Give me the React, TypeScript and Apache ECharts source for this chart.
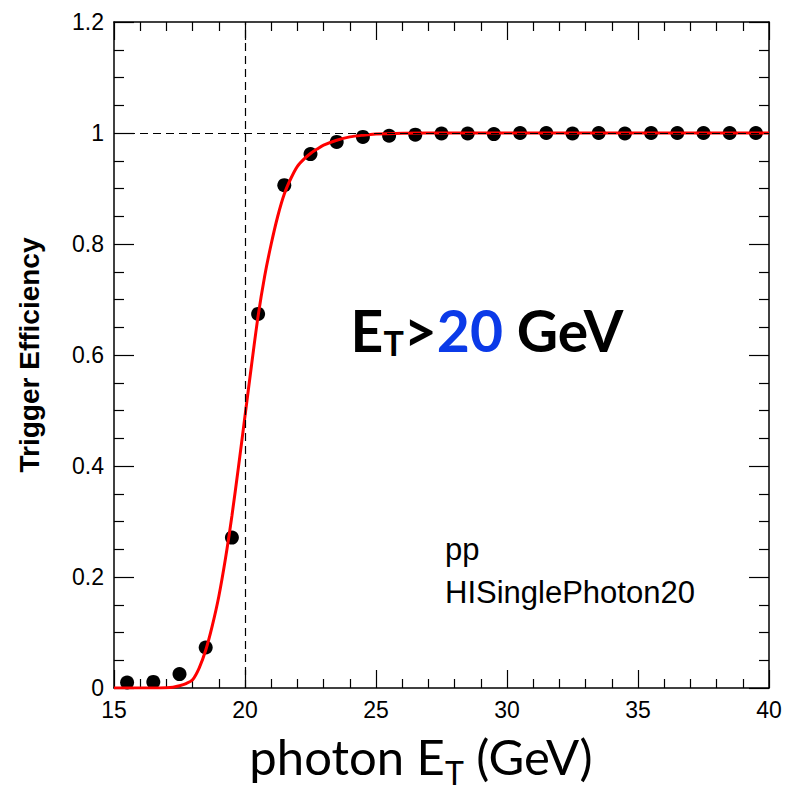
import React, { useEffect, useRef } from "react";
import * as echarts from "echarts";

// measured efficiency points (photon ET in GeV, efficiency)
const pointX = [15.5, 16.5, 17.5, 18.5, 19.5, 20.5, 21.5, 22.5, 23.5, 24.5, 25.5, 26.5, 27.5, 28.5, 29.5, 30.5, 31.5, 32.5, 33.5, 34.5, 35.5, 36.5, 37.5, 38.5, 39.5];
const pointY = [0.010, 0.011, 0.025, 0.073, 0.271, 0.674, 0.906, 0.962, 0.984, 0.993, 0.995, 0.997, 0.999, 0.999, 0.998, 1.0, 1.0, 0.999, 1.0, 0.999, 1.0, 1.0, 1.0, 1.0, 1.0];

// fitted curve
const fitX = [15, 16, 16.5, 17, 17.25, 17.5, 17.75, 18, 18.25, 18.5, 18.75, 19, 19.25, 19.5, 19.75, 20, 20.25, 20.5, 20.75, 21, 21.25, 21.5, 21.75, 22, 22.25, 22.5, 22.75, 23, 23.5, 24, 24.5, 25, 26, 27, 28, 30, 35, 40];
const fitY = [0, 0, 0, 0.0005, 0.0015, 0.004, 0.008, 0.015, 0.036, 0.068, 0.112, 0.165, 0.232, 0.31, 0.398, 0.49, 0.582, 0.67, 0.742, 0.80, 0.85, 0.89, 0.918, 0.94, 0.953, 0.963, 0.971, 0.978, 0.987, 0.993, 0.996, 0.998, 0.9995, 1, 1, 1, 1, 1];

// axis ranges
const xRange = [15, 40];
const yRange = [0, 1.2];
const thresholdX = 20;
const plateauY = 1;

const yTitle = "Trigger Efficiency";
const labelLines = ["pp", "HISinglePhoton20"];

function measure(text: string, font: string): number {
  const c = document.createElement("canvas");
  const ctx = c.getContext("2d");
  if (!ctx) return text.length * 20;
  ctx.font = font;
  return ctx.measureText(text).width;
}

export default function App() {
  const ref = useRef<HTMLDivElement>(null);
  useEffect(() => {
    if (!ref.current) return;
    const chart = echarts.init(ref.current, null, { renderer: "svg" });
    const tickFont = { fontFamily: "Liberation Sans", fontSize: 23, color: "#000" };
    const baseAxis = {
      axisLine: { show: true, onZero: false, lineStyle: { color: "#000", width: 1.5 } },
      splitLine: { show: false },
    };
    const xAxisCommon = {
      ...baseAxis,
      type: "value",
      min: xRange[0],
      max: xRange[1],
      interval: 5,
      axisTick: { show: true, inside: true, length: 18, lineStyle: { color: "#000", width: 1.2 } },
      minorTick: { show: true, splitNumber: 5, length: 9, lineStyle: { color: "#000", width: 1.2 } },
    };
    const yAxisCommon = {
      ...baseAxis,
      type: "value",
      min: yRange[0],
      max: yRange[1],
      interval: 0.2,
      axisTick: { show: true, inside: true, length: 20, lineStyle: { color: "#000", width: 1.2 } },
      minorTick: { show: true, splitNumber: 4, length: 10, lineStyle: { color: "#000", width: 1.2 } },
    };

    // annotation "E_T>20 GeV" laid out piece by piece
    const bigFont = "bold 57px Lato";
    const subFont = "bold 34px Lato";
    const annParts = [
      { text: "E", font: bigFont, fill: "#000", y: 330 },
      { text: "T", font: subFont, fill: "#000", y: 342 },
      { text: ">", font: bigFont, fill: "#000", y: 330 },
      { text: "20", font: bigFont, fill: "#0b3ae8", y: 330 },
      { text: " GeV", font: bigFont, fill: "#000", y: 330 },
    ];
    const annWidths = annParts.map((p) => measure(p.text, p.font));
    const annTotal = annWidths.reduce((a, b) => a + b, 0);
    let ax = 487 - annTotal / 2;
    const annEls = annParts.map((p, i) => {
      const el = {
        type: "text",
        x: ax,
        y: p.y,
        style: { text: p.text, font: p.font, fill: p.fill, textAlign: "left", textVerticalAlign: "middle" },
      };
      ax += annWidths[i];
      return el;
    });

    // x axis title "photon E_T (GeV)"
    const tFont = "49px Lato";
    const tSub = "32px Lato";
    const titleParts = [
      { text: "photon E", font: tFont, y: 756 },
      { text: "T", font: tSub, y: 772 },
      { text: " (GeV)", font: tFont, y: 756 },
    ];
    const tWidths = titleParts.map((p) => measure(p.text, p.font));
    const tTotal = tWidths.reduce((a, b) => a + b, 0);
    let tx = 421 - tTotal / 2;
    const titleEls = titleParts.map((p, i) => {
      const el = {
        type: "text",
        x: tx,
        y: p.y,
        style: { text: p.text, font: p.font, fill: "#000", textAlign: "left", textVerticalAlign: "middle" },
      };
      tx += tWidths[i];
      return el;
    });

    const option = {
      animation: false,
      backgroundColor: "#fff",
      grid: { left: 114, top: 22, width: 655, height: 666, containLabel: false },
      xAxis: [
        { ...xAxisCommon, position: "bottom", axisLabel: { ...tickFont, margin: 10 } },
        { ...xAxisCommon, position: "top", axisLabel: { show: false } },
      ],
      yAxis: [
        { ...yAxisCommon, position: "left", axisLabel: { ...tickFont, margin: 10 } },
        { ...yAxisCommon, position: "right", axisLabel: { show: false } },
      ],
      series: [
        {
          type: "scatter",
          data: pointX.map((x, i) => [x, pointY[i]]),
          symbol: "circle",
          symbolSize: 14,
          itemStyle: { color: "#000", opacity: 1 },
          z: 3,
          markLine: {
            silent: true,
            symbol: "none",
            label: { show: false },
            lineStyle: { color: "#000", type: [8, 5], width: 1.2 },
            data: [{ xAxis: thresholdX }, { yAxis: plateauY }],
          },
        },
        {
          type: "line",
          data: fitX.map((x, i) => [x, fitY[i]]),
          showSymbol: false,
          smooth: 0.3,
          lineStyle: { color: "#ff0000", width: 3 },
          itemStyle: { color: "#ff0000" },
          z: 4,
        },
      ],
      graphic: [
        {
          type: "text",
          x: 29,
          y: 355,
          rotation: Math.PI / 2,
          style: {
            text: yTitle,
            font: "bold 28px 'Liberation Sans'",
            fill: "#000",
            textAlign: "center",
            textVerticalAlign: "middle",
          },
        },
        ...annEls,
        {
          type: "text",
          x: 445,
          y: 549,
          style: { text: labelLines[0], font: "31px 'Liberation Sans'", fill: "#000", textAlign: "left", textVerticalAlign: "middle" },
        },
        {
          type: "text",
          x: 445,
          y: 592,
          style: { text: labelLines[1], font: "31px 'Liberation Sans'", fill: "#000", textAlign: "left", textVerticalAlign: "middle" },
        },
        ...titleEls,
      ],
    };
    chart.setOption(option as any);
    return () => chart.dispose();
  }, []);
  return (
    <div
      ref={ref}
      style={{ position: "fixed", left: 0, top: 0, width: 786, height: 792, background: "#fff" }}
    />
  );
}
